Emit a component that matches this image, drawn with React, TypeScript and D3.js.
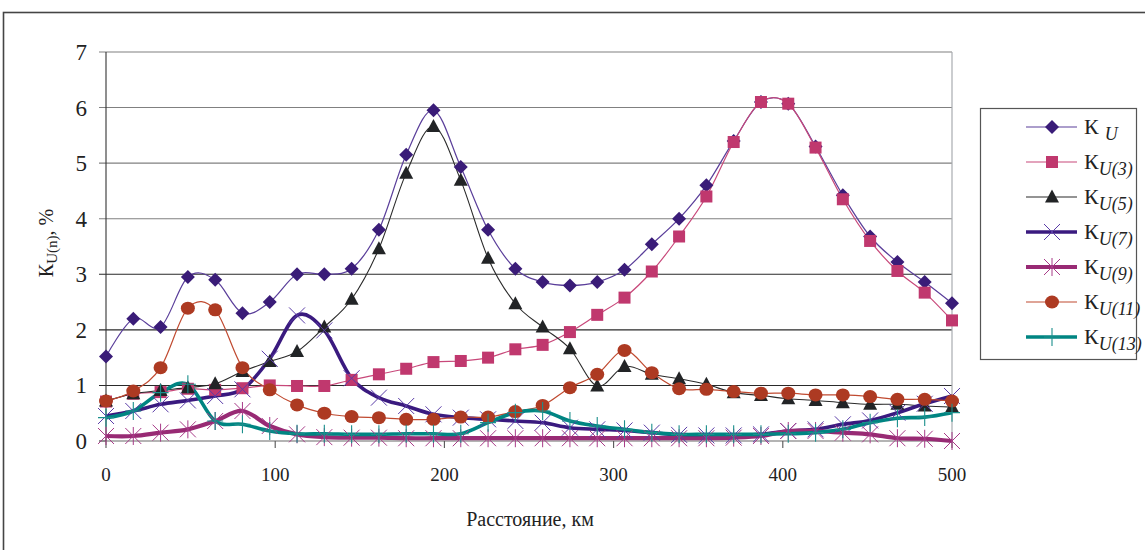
import React from "react";
import * as d3 from "d3";

const N = 32;
const distances: number[] = d3.range(N).map((i) => (i * 500) / 31);

const kU = [1.52, 2.2, 2.05, 2.95, 2.9, 2.3, 2.5, 3.0, 3.0, 3.1, 3.8, 5.15, 5.95, 4.93, 3.8, 3.1, 2.86, 2.8, 2.86, 3.08, 3.54, 4.0, 4.6, 5.4, 6.1, 6.07, 5.3, 4.42, 3.68, 3.22, 2.86, 2.48];
const kU3 = [0.71, 0.85, 0.88, 0.94, 0.92, 0.95, 1.0, 0.99, 0.99, 1.1, 1.2, 1.3, 1.42, 1.44, 1.5, 1.65, 1.73, 1.96, 2.27, 2.58, 3.05, 3.68, 4.4, 5.38, 6.1, 6.07, 5.28, 4.35, 3.6, 3.06, 2.67, 2.17];
const kU5 = [0.72, 0.85, 0.91, 0.96, 1.03, 1.25, 1.43, 1.61, 2.05, 2.55, 3.46, 4.82, 5.66, 4.69, 3.29, 2.47, 2.05, 1.66, 0.99, 1.34, 1.2, 1.12, 1.02, 0.87, 0.82, 0.76, 0.73, 0.69, 0.66, 0.66, 0.63, 0.61];
const kU7 = [0.45, 0.54, 0.66, 0.73, 0.81, 0.93, 1.48, 2.26, 1.99, 1.13, 0.78, 0.63, 0.48, 0.42, 0.39, 0.36, 0.33, 0.24, 0.21, 0.19, 0.15, 0.11, 0.1, 0.1, 0.12, 0.18, 0.21, 0.3, 0.37, 0.51, 0.67, 0.81];
const kU9 = [0.09, 0.09, 0.15, 0.21, 0.36, 0.54, 0.27, 0.12, 0.07, 0.06, 0.06, 0.05, 0.05, 0.05, 0.05, 0.05, 0.05, 0.05, 0.05, 0.05, 0.05, 0.05, 0.05, 0.06, 0.09, 0.18, 0.18, 0.15, 0.12, 0.05, 0.04, 0.0];
const kU11 = [0.72, 0.9, 1.32, 2.39, 2.36, 1.32, 0.92, 0.65, 0.5, 0.44, 0.42, 0.39, 0.39, 0.43, 0.43, 0.53, 0.64, 0.96, 1.2, 1.63, 1.23, 0.94, 0.93, 0.89, 0.86, 0.86, 0.83, 0.83, 0.8, 0.75, 0.75, 0.72];
const kU13 = [0.42, 0.54, 0.87, 1.02, 0.36, 0.3, 0.18, 0.13, 0.13, 0.12, 0.12, 0.13, 0.13, 0.13, 0.33, 0.51, 0.54, 0.36, 0.27, 0.21, 0.15, 0.12, 0.12, 0.12, 0.12, 0.13, 0.15, 0.21, 0.33, 0.41, 0.43, 0.51];

const yTicks = [0, 1, 2, 3, 4, 5, 6, 7];
const xTicks = [0, 100, 200, 300, 400, 500];

const legendSubs = ["", "U(3)", "U(5)", "U(7)", "U(9)", "U(11)", "U(13)"];

type Marker = "diamond" | "square" | "triangle" | "x" | "asterisk" | "circle" | "plus";

interface Series {
  values: number[];
  sub: string;
  line: string;
  lineWidth: number;
  marker: Marker;
  mColor: string;
}

const series: Series[] = [
  { values: kU, sub: legendSubs[0], line: "#5a3e9a", lineWidth: 1.2, marker: "diamond", mColor: "#3a1c78" },
  { values: kU3, sub: legendSubs[1], line: "#c8487a", lineWidth: 1.2, marker: "square", mColor: "#c0386e" },
  { values: kU5, sub: legendSubs[2], line: "#2a2a2a", lineWidth: 1.1, marker: "triangle", mColor: "#222426" },
  { values: kU7, sub: legendSubs[3], line: "#3a1a7f", lineWidth: 3.6, marker: "x", mColor: "#5a3ca8" },
  { values: kU9, sub: legendSubs[4], line: "#982a74", lineWidth: 4.2, marker: "asterisk", mColor: "#a83a88" },
  { values: kU11, sub: legendSubs[5], line: "#c04a30", lineWidth: 1.2, marker: "circle", mColor: "#ad3a22" },
  { values: kU13, sub: legendSubs[6], line: "#008582", lineWidth: 3.6, marker: "plus", mColor: "#1a8f8c" },
];

const X0 = 106, X1 = 952, Y0 = 441, Y1 = 52;

function MarkerShape({ type, x, y, color }: { type: Marker; x: number; y: number; color: string }) {
  switch (type) {
    case "diamond":
      return <path d={`M${x},${y - 7}L${x + 7},${y}L${x},${y + 7}L${x - 7},${y}Z`} fill={color} />;
    case "square":
      return <rect x={x - 6} y={y - 6} width={12} height={12} fill={color} />;
    case "triangle":
      return <path d={`M${x},${y - 7.5}L${x + 7},${y + 5.5}L${x - 7},${y + 5.5}Z`} fill={color} />;
    case "circle":
      return <ellipse cx={x} cy={y} rx={7} ry={6.5} fill={color} />;
    case "x":
      return (
        <path d={`M${x - 8},${y - 8}L${x + 8},${y + 8}M${x - 8},${y + 8}L${x + 8},${y - 8}`} stroke={color} strokeWidth={1} fill="none" />
      );
    case "asterisk":
      return (
        <path
          d={`M${x - 8},${y - 8}L${x + 8},${y + 8}M${x - 8},${y + 8}L${x + 8},${y - 8}M${x},${y - 9}L${x},${y + 9}`}
          stroke={color}
          strokeWidth={1}
          fill="none"
        />
      );
    case "plus":
      return <path d={`M${x},${y - 9}L${x},${y + 9}M${x - 8},${y}L${x + 8},${y}`} stroke={color} strokeWidth={1.1} fill="none" />;
  }
  return null;
}

export default function App() {
  const x = d3.scaleLinear().domain([0, 500]).range([X0, X1]);
  const y = d3.scaleLinear().domain([0, 7]).range([Y0, Y1]);
  const line = d3
    .line<number>()
    .x((_, i) => x(distances[i]))
    .y((d) => y(d))
    .curve(d3.curveCatmullRom.alpha(0));

  const serif = "'Liberation Serif', 'Times New Roman', serif";

  return (
    <svg width={1145} height={550} style={{ position: "absolute", left: 0, top: 0, background: "#fff" }} fontFamily={serif}>
      {/* outer frame */}
      <rect x={3.5} y={12.5} width={1160} height={560} fill="none" stroke="#454545" strokeWidth={1.6} />

      {/* gridlines */}
      {yTicks.map((t) =>
        t === 0 ? null : (
          <line key={t} x1={X0 - 7} x2={X1} y1={y(t)} y2={y(t)} stroke={t >= 4 ? "#808080" : "#2a2a2a"} strokeWidth={1.1} />
        )
      )}
      {/* plot right border */}
      <line x1={X1} x2={X1} y1={Y1} y2={Y0} stroke="#a8acb0" strokeWidth={1.2} />
      {/* axes */}
      <line x1={X0} x2={X0} y1={Y1} y2={Y0} stroke="#333" strokeWidth={1.1} />
      <line x1={X0} x2={X1} y1={Y0} y2={Y0} stroke="#6a6a6a" strokeWidth={1.1} />
      <line x1={X0 - 7} x2={X0} y1={Y0} y2={Y0} stroke="#333" strokeWidth={1.1} />
      {xTicks.map((t) => (
        <line key={t} x1={x(t)} x2={x(t)} y1={Y0} y2={Y0 + 7} stroke="#555" strokeWidth={1.1} />
      ))}

      {/* y tick labels */}
      {yTicks.map((t) => (
        <text key={t} x={87} y={y(t)} dy="0.35em" textAnchor="end" fontSize={23} fill="#222">
          {t}
        </text>
      ))}
      {/* x tick labels */}
      {xTicks.map((t) => (
        <text key={t} x={x(t)} y={481} textAnchor="middle" fontSize={19} fill="#222">
          {t}
        </text>
      ))}

      {/* axis titles */}
      <text x={530} y={526} textAnchor="middle" fontSize={20} fill="#222">
        Расстояние, км
      </text>
      <text transform="translate(53,243) rotate(-90)" textAnchor="middle" fontSize={20} fill="#222">
        К<tspan fontSize={15} dy={4}>U(n)</tspan>
        <tspan dy={-4}>, %</tspan>
      </text>

      {/* series lines */}
      {series.map((s, si) => (
        <path key={"l" + si} d={line(s.values) || ""} fill="none" stroke={s.line} strokeWidth={s.lineWidth} strokeLinejoin="round" />
      ))}
      {/* markers */}
      {series.map((s, si) => (
        <g key={"m" + si}>
          {s.values.map((v, i) => (
            <MarkerShape key={i} type={s.marker} x={x(distances[i])} y={y(v)} color={s.mColor} />
          ))}
        </g>
      ))}

      {/* legend */}
      <rect x={980.5} y={108.5} width={156} height={251} fill="#fff" stroke="#555" strokeWidth={1.2} />
      {series.map((s, i) => {
        const ly = 127 + i * 35;
        return (
          <g key={"lg" + i}>
            <line x1={1026} x2={1077} y1={ly} y2={ly} stroke={s.line} strokeWidth={s.lineWidth} />
            <MarkerShape type={s.marker} x={1052} y={ly} color={s.mColor} />
            <text x={1084} y={ly + 7} fontSize={22} fill="#222">
              К
              {i === 0 ? (
                <tspan fontSize={18} fontStyle="italic" dx={6} dy={6}>
                  U
                </tspan>
              ) : (
                <tspan fontSize={18} fontStyle="italic" dy={6}>
                  {s.sub}
                </tspan>
              )}
            </text>
          </g>
        );
      })}
    </svg>
  );
}
